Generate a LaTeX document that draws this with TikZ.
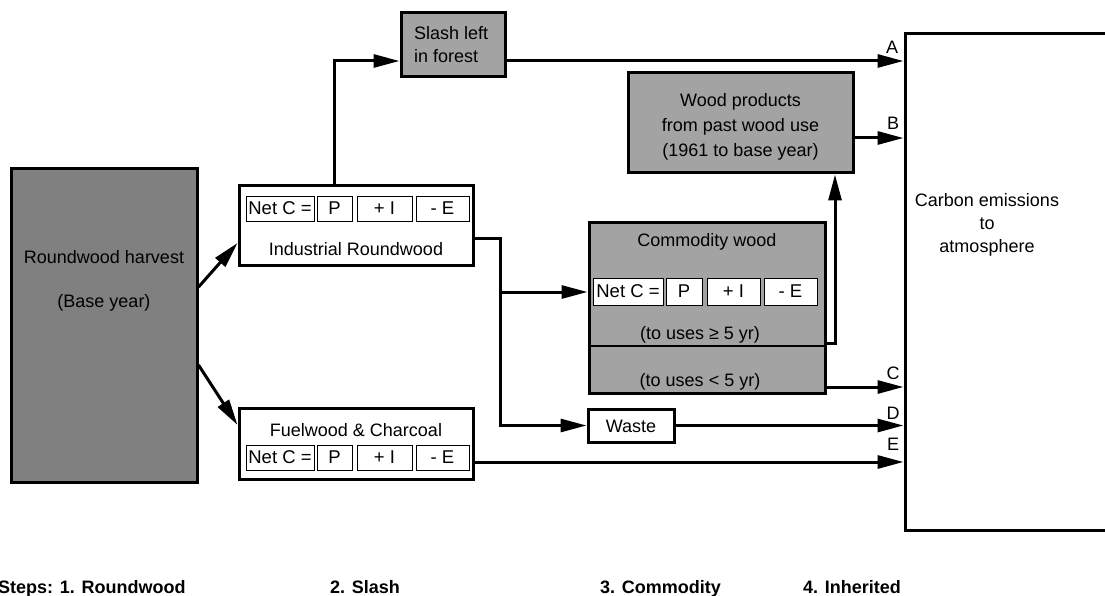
\documentclass[tikz,border=0pt]{standalone}
\usepackage{fontspec}
\setmainfont{Liberation Sans}
\usetikzlibrary{arrows.meta}
\definecolor{darkfill}{gray}{0.50}
\definecolor{midfill}{gray}{0.64}
\begin{document}
\begin{tikzpicture}[x=1pt,y=-1pt,
  txt/.style={font=\fontsize{18}{23}\selectfont, inner sep=0pt},
  box/.style={draw=black, line width=3pt, inner sep=0pt, rectangle},
  cell/.style={draw=black, line width=0.9pt, fill=white, inner sep=0pt, minimum height=25pt,
    font=\fontsize{18.5}{22}\selectfont},
  flow/.style={line width=3pt, line join=miter, -{Triangle[length=26pt,width=13pt]}},
  plain/.style={line width=3pt},
  lab/.style={font=\fontsize{18}{22}\selectfont, inner sep=0pt},
  foot/.style={font=\fontsize{18}{22}\selectfont\bfseries, inner sep=0pt, anchor=base west}]
\useasboundingbox (0,0) rectangle (1105,596);

% Roundwood harvest
\node[box, fill=darkfill, minimum width=186pt, minimum height=313pt] (rw) at (104,325.5) {};
\node[txt] (rwt1) at (104,257) {Roundwood harvest};
\node[txt] (rwt2) at (104,303) {(Base year)};

% Industrial roundwood
\node[box, fill=white, minimum width=234pt, minimum height=79pt] (ir) at (356,225.5) {};
\node[cell, minimum width=68pt] (irN) at (280,208.5) {Net C =};
\node[cell, minimum width=35pt] (irP) at (334.5,208.5) {P};
\node[cell, minimum width=55pt] (irI) at (384.5,208.5) {+ I};
\node[cell, minimum width=53pt] (irE) at (442.5,208.5) {- E};
\node[txt] (irt) at (356,249) {Industrial Roundwood};

% Fuelwood & charcoal
\node[box, fill=white, minimum width=234pt, minimum height=71pt] (fw) at (356,443.5) {};
\node[txt] (fwt) at (356,430) {Fuelwood \& Charcoal};
\node[cell, minimum width=68pt] (fwN) at (280,457.5) {Net C =};
\node[cell, minimum width=35pt] (fwP) at (334.5,457.5) {P};
\node[cell, minimum width=55pt] (fwI) at (384.5,457.5) {+ I};
\node[cell, minimum width=53pt] (fwE) at (442.5,457.5) {- E};

% Slash left in forest
\node[box, fill=midfill, minimum width=104pt, minimum height=64pt] (slash) at (453,45) {};
\node[txt, align=left, anchor=west] (slasht) at (414,45) {Slash left\\in forest};

% Wood products
\node[box, fill=midfill, minimum width=225pt, minimum height=100pt] (wood) at (740.5,123) {};
\node[txt, align=center, font=\fontsize{18}{25}\selectfont] (woodt) at (740.5,127) {Wood products\\from past wood use\\(1961 to base year)};

% Commodity wood
\node[box, fill=midfill, minimum width=236pt, minimum height=171pt] (com) at (707,307.5) {};
\node[txt] (comt) at (707,242) {Commodity wood};
\node[cell, minimum width=70pt, minimum height=27pt] (coN) at (628,291.5) {Net C =};
\node[cell, minimum width=36pt, minimum height=27pt] (coP) at (684,291.5) {P};
\node[cell, minimum width=53pt, minimum height=27pt] (coI) at (733.5,291.5) {+ I};
\node[cell, minimum width=53pt, minimum height=27pt] (coE) at (790.5,291.5) {- E};
\draw[line width=1.2pt] (com.west |- 0,346) -- (com.east |- 0,346);
\node[txt] (cot1) at (700,335) {(to uses ≥ 5 yr)};
\node[txt] (cot2) at (700,382) {(to uses < 5 yr)};

% Waste
\node[box, fill=white, minimum width=86pt, minimum height=33pt] (waste) at (631,425.5) {};
\node[txt] (wastet) at (631,426) {Waste};

% Carbon emissions
\node[box, fill=white, minimum width=230pt, minimum height=496pt] (carbon) at (1020,282) {};
\node[txt, align=center, font=\fontsize{18}{23}\selectfont] (carbont) at (987,225) {Carbon emissions\\to\\atmosphere};

% Labels
\node[lab] (la) at (892,47) {A};
\node[lab] (lb) at (893,123) {B};
\node[lab] (lc) at (893,373) {C};
\node[lab] (ld) at (893,413) {D};
\node[lab] (le) at (893,444) {E};

% Connectors
\draw[flow] ([yshift=38.5pt]rw.east) -- ([yshift=-17.5pt]ir.west);
\draw[flow] ([yshift=-39.5pt]rw.east) -- ([yshift=18.5pt]fw.west);

\draw[flow] (irP.north |- ir.north) |- ([yshift=-16pt]slash.west);
\draw[flow] ([yshift=-16pt]slash.east) -- ([yshift=-16pt]slash.east -| carbon.west);

\coordinate (j1) at (500,238);
\coordinate (j2) at (500,292);
\draw[flow] ([yshift=-12.5pt]ir.east) -- (j1) |- (waste.west);
\draw[flow] (j2) -- (j2 -| com.west);

\coordinate (up1) at (835,343);
\draw[flow] (com.east |- up1) -- (up1) -- (up1 |- wood.south);
\draw[flow] ([yshift=-15pt]wood.east) -- ([yshift=-15pt]wood.east -| carbon.west);
\draw[flow] ([yshift=-79.5pt]com.east) -- ([yshift=-79.5pt]com.east -| carbon.west);
\draw[flow] (waste.east) -- (waste.east -| carbon.west);
\draw[flow] ([yshift=-18.5pt]fw.east) -- ([yshift=-18.5pt]fw.east -| carbon.west);

% Footer
\node[foot] (s1) at (-2,593) {Steps: 1. Roundwood};
\node[foot] (s2) at (330,593) {2. Slash};
\node[foot] (s3) at (600,593) {3. Commodity};
\node[foot] (s4) at (803,593) {4. Inherited};
\end{tikzpicture}
\end{document}
